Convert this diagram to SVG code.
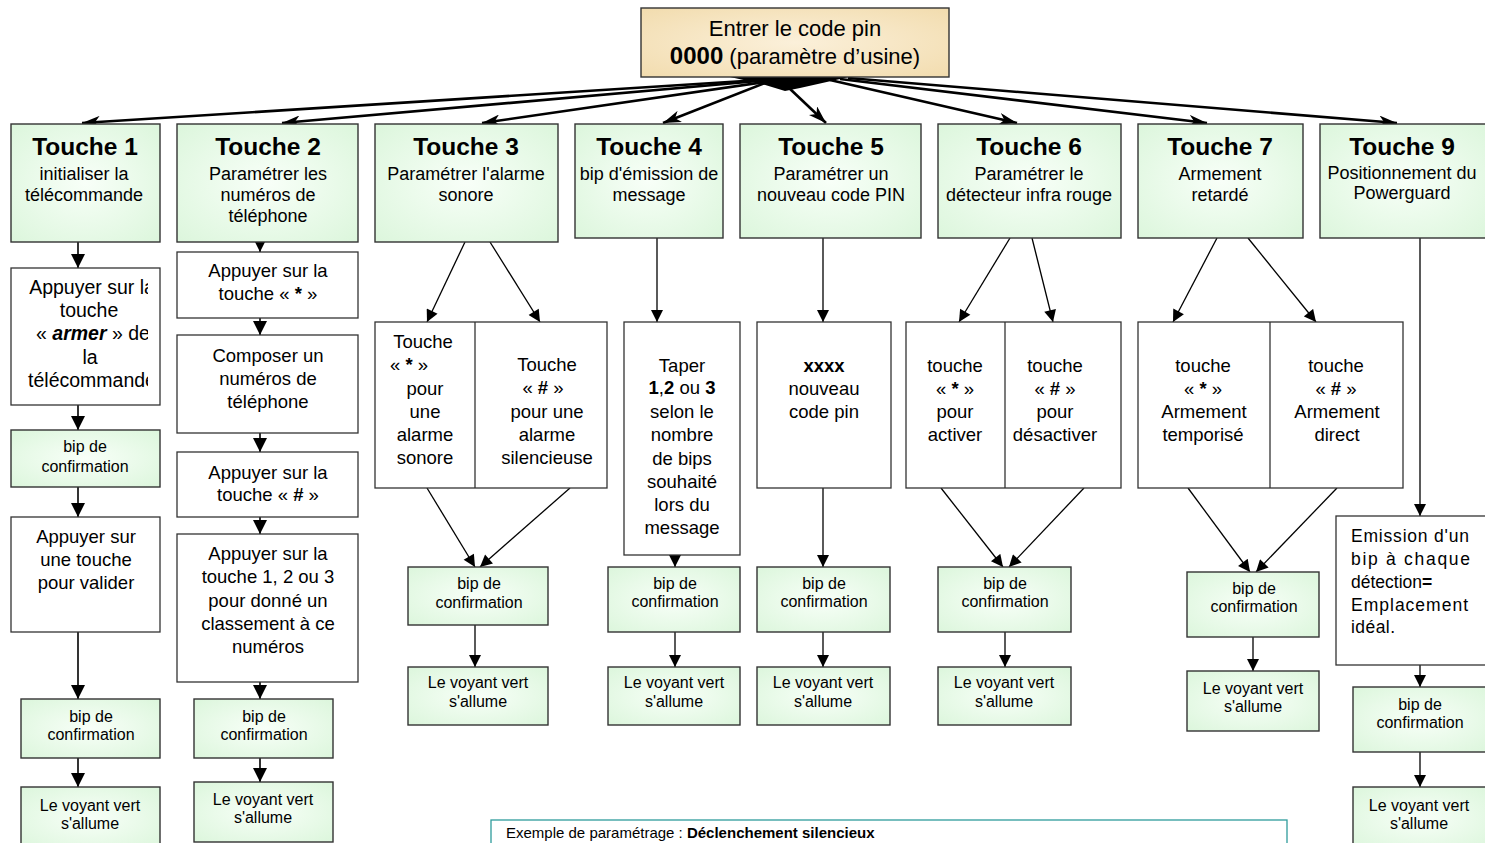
<svg xmlns="http://www.w3.org/2000/svg" width="1485" height="843" viewBox="0 0 1485 843">
<defs>
<style>
.t{font-family:"Liberation Sans",Arial,sans-serif;text-anchor:middle;fill:#000}
.s{text-anchor:start}
.title{font-size:24.5px;font-weight:bold}
.sub{font-size:18px}
.body{font-size:18.5px}
.sm{font-size:16px}
.b{font-weight:bold}
.g{fill:url(#gg);stroke:#333;stroke-width:1.4}
.w{fill:#fff;stroke:#333;stroke-width:1.3}
.c{stroke:#000;stroke-width:1.3;fill:none;marker-end:url(#ah)}
.cv{stroke:#000;stroke-width:1.6;fill:none;marker-end:url(#ah2)}
.fan{stroke:#000;stroke-width:2.6;fill:none;marker-end:url(#fh)}
</style>
<radialGradient id="gg" cx="50%" cy="50%" r="70%">
<stop offset="0" stop-color="#f8fff8"/>
<stop offset="1" stop-color="#dcf6dc"/>
</radialGradient>
<radialGradient id="bg" cx="50%" cy="50%" r="70%">
<stop offset="0" stop-color="#fbf0da"/>
<stop offset="1" stop-color="#f2dcae"/>
</radialGradient>
<marker id="ah" viewBox="0 0 12 12" refX="12" refY="6" markerWidth="13" markerHeight="12" markerUnits="userSpaceOnUse" orient="auto"><path d="M0,0 L12,6 L0,12 z" fill="#000"/></marker>
<marker id="ah2" viewBox="0 0 14 14" refX="14" refY="7" markerWidth="14" markerHeight="14" markerUnits="userSpaceOnUse" orient="auto"><path d="M0,0 L14,7 L0,14 z" fill="#000"/></marker>
<marker id="fh" viewBox="0 0 18 12" refX="18" refY="6" markerWidth="18" markerHeight="12" markerUnits="userSpaceOnUse" orient="auto"><path d="M0,0 L18,6 L0,12 L5,6 z" fill="#000"/></marker>
<clipPath id="clip1"><rect x="12" y="269" width="136" height="135"/></clipPath>
<clipPath id="clip3r"><rect x="476" y="323" width="120" height="164"/></clipPath>
</defs>

<g id="connectors">
<path d="M730,77 L849,77 L800,88 L785,91 L762,84 Z" fill="#000"/>
<line class="fan" x1="760" y1="80" x2="82" y2="123"/>
<line class="fan" x1="770" y1="80" x2="282" y2="123"/>
<line class="fan" x1="765" y1="82" x2="482" y2="123"/>
<line class="fan" x1="765" y1="83" x2="663" y2="123"/>
<line class="fan" x1="788" y1="87" x2="826" y2="123"/>
<line class="fan" x1="830" y1="80" x2="1017" y2="123"/>
<line class="fan" x1="840" y1="79" x2="1207" y2="123"/>
<line class="fan" x1="848" y1="78" x2="1397" y2="123"/>
<line class="cv" x1="78" y1="242" x2="78" y2="268"/>
<line class="cv" x1="78" y1="405" x2="78" y2="430"/>
<line class="cv" x1="78" y1="487" x2="78" y2="517"/>
<line class="cv" x1="78" y1="632" x2="78" y2="699"/>
<line class="cv" x1="78" y1="758" x2="78" y2="787"/>
<line class="cv" x1="260" y1="242" x2="260" y2="252"/>
<line class="cv" x1="260" y1="318" x2="260" y2="335"/>
<line class="cv" x1="260" y1="433" x2="260" y2="452"/>
<line class="cv" x1="260" y1="517" x2="260" y2="534"/>
<line class="cv" x1="260" y1="682" x2="260" y2="699"/>
<line class="cv" x1="260" y1="758" x2="260" y2="782"/>
<line class="c" x1="465" y1="242" x2="427" y2="322"/>
<line class="c" x1="490" y1="242" x2="540" y2="322"/>
<line class="c" x1="427" y1="488" x2="475" y2="567"/>
<line class="c" x1="570" y1="488" x2="480" y2="567"/>
<line class="c" x1="475" y1="625" x2="475" y2="667"/>
<line class="c" x1="657" y1="238" x2="657" y2="322"/>
<line class="c" x1="675" y1="555" x2="675" y2="567"/>
<line class="c" x1="675" y1="632" x2="675" y2="667"/>
<line class="c" x1="823" y1="238" x2="823" y2="322"/>
<line class="c" x1="823" y1="488" x2="823" y2="567"/>
<line class="c" x1="823" y1="632" x2="823" y2="667"/>
<line class="c" x1="1010" y1="238" x2="959" y2="322"/>
<line class="c" x1="1032" y1="238" x2="1053" y2="322"/>
<line class="c" x1="941" y1="488" x2="1003" y2="567"/>
<line class="c" x1="1084" y1="488" x2="1009" y2="567"/>
<line class="c" x1="1005" y1="632" x2="1005" y2="667"/>
<line class="c" x1="1217" y1="238" x2="1173" y2="322"/>
<line class="c" x1="1248" y1="238" x2="1316" y2="322"/>
<line class="c" x1="1188" y1="488" x2="1250" y2="572"/>
<line class="c" x1="1337" y1="488" x2="1256" y2="572"/>
<line class="c" x1="1253" y1="637" x2="1253" y2="671"/>
<line class="c" x1="1420" y1="238" x2="1420" y2="516"/>
<line class="c" x1="1420" y1="665" x2="1420" y2="687"/>
<line class="c" x1="1420" y1="752" x2="1420" y2="787"/>
</g>

<g id="root">
<rect x="641" y="8" width="308" height="69" fill="url(#bg)" stroke="#333" stroke-width="1.4"/>
<text class="t" x="795" y="36" font-size="22">Entrer le code pin</text>
<text class="t" x="795" y="64" font-size="22"><tspan class="b" font-size="24">0000</tspan> (paramètre d’usine)</text>
</g>

<g id="touche1">
<rect class="g" x="11" y="124" width="149" height="118"/>
<text class="t title" x="85" y="155">Touche 1</text>
<text class="t sub" x="84" y="179.5">initialiser la</text>
<text class="t sub" x="84" y="200.5">télécommande</text>
</g>
<g id="touche2">
<rect class="g" x="177" y="124" width="181" height="118"/>
<text class="t title" x="268" y="155">Touche 2</text>
<text class="t sub" x="268" y="179.5">Paramétrer les</text>
<text class="t sub" x="268" y="200.5">numéros de</text>
<text class="t sub" x="268" y="221.5">téléphone</text>
</g>
<g id="touche3">
<rect class="g" x="375" y="124" width="183" height="118"/>
<text class="t title" x="466" y="155">Touche 3</text>
<text class="t sub" x="466" y="179.5">Paramétrer l'alarme</text>
<text class="t sub" x="466" y="200.5">sonore</text>
</g>
<g id="touche4">
<rect class="g" x="575" y="124" width="148" height="114"/>
<text class="t title" x="649" y="155">Touche 4</text>
<text class="t sub" x="649" y="179.5">bip d'émission de</text>
<text class="t sub" x="649" y="200.5">message</text>
</g>
<g id="touche5">
<rect class="g" x="740" y="124" width="181" height="114"/>
<text class="t title" x="831" y="155">Touche 5</text>
<text class="t sub" x="831" y="179.5">Paramétrer un</text>
<text class="t sub" x="831" y="200.5">nouveau code PIN</text>
</g>
<g id="touche6">
<rect class="g" x="938" y="124" width="183" height="114"/>
<text class="t title" x="1029" y="155">Touche 6</text>
<text class="t sub" x="1029" y="179.5">Paramétrer le</text>
<text class="t sub" x="1029" y="200.5">détecteur infra rouge</text>
</g>
<g id="touche7">
<rect class="g" x="1138" y="124" width="165" height="114"/>
<text class="t title" x="1220" y="155">Touche 7</text>
<text class="t sub" x="1220" y="179.5">Armement</text>
<text class="t sub" x="1220" y="200.5">retardé</text>
</g>
<g id="touche9">
<rect class="g" x="1320" y="124" width="170" height="114"/>
<text class="t title" x="1402" y="155">Touche 9</text>
<text class="t sub" x="1402" y="178.5">Positionnement du</text>
<text class="t sub" x="1402" y="198.5">Powerguard</text>
</g>

<g id="c1-armer">
<rect class="w" x="11" y="268" width="149" height="137"/>
<g clip-path="url(#clip1)">
<text class="t" font-size="19.5" x="92" y="293.5">Appuyer sur la</text>
<text class="t" font-size="19.5" x="89" y="316.5">touche</text>
<text class="t" font-size="19.5" x="93" y="339.5">« <tspan class="b" font-style="italic">armer</tspan> » de</text>
<text class="t" font-size="19.5" x="90" y="363.5">la</text>
<text class="t" font-size="19.5" x="92" y="386.5">télécommande</text>
</g>
</g>
<g id="c1-bip1">
<rect class="g" x="11" y="430" width="149" height="57"/>
<text class="t sm" x="85" y="451.5">bip de</text>
<text class="t sm" x="85" y="471.5">confirmation</text>
</g>
<g id="c1-valider">
<rect class="w" x="11" y="517" width="149" height="115"/>
<text class="t body" x="86" y="542.5">Appuyer sur</text>
<text class="t body" x="86" y="565.5">une touche</text>
<text class="t body" x="86" y="588.5">pour valider</text>
</g>
<g id="c1-bip2">
<rect class="g" x="21" y="699" width="139" height="59"/>
<text class="t sm" x="91" y="721.5">bip de</text>
<text class="t sm" x="91" y="739.5">confirmation</text>
</g>
<g id="c1-voyant">
<rect class="g" x="21" y="787" width="139" height="62"/>
<text class="t sm" x="90" y="810.5">Le voyant vert</text>
<text class="t sm" x="90" y="828.5">s'allume</text>
</g>

<g id="c2-etoile">
<rect class="w" x="177" y="252" width="181" height="66"/>
<text class="t body" x="268" y="276.5">Appuyer sur la</text>
<text class="t body" x="268" y="299.5">touche « <tspan class="b">*</tspan> »</text>
</g>
<g id="c2-composer">
<rect class="w" x="177" y="335" width="181" height="98"/>
<text class="t body" x="268" y="361.5">Composer un</text>
<text class="t body" x="268" y="384.5">numéros de</text>
<text class="t body" x="268" y="407.5">téléphone</text>
</g>
<g id="c2-diese">
<rect class="w" x="177" y="452" width="181" height="65"/>
<text class="t body" x="268" y="478.5">Appuyer sur la</text>
<text class="t body" x="268" y="500.5">touche « <tspan class="b">#</tspan> »</text>
</g>
<g id="c2-classement">
<rect class="w" x="177" y="534" width="181" height="148"/>
<text class="t body" x="268" y="559.5">Appuyer sur la</text>
<text class="t body" x="268" y="582.5">touche 1, 2 ou 3</text>
<text class="t body" x="268" y="606.5">pour donné un</text>
<text class="t body" x="268" y="629.5">classement à ce</text>
<text class="t body" x="268" y="652.5">numéros</text>
</g>
<g id="c2-bip">
<rect class="g" x="194" y="699" width="139" height="59"/>
<text class="t sm" x="264" y="721.5">bip de</text>
<text class="t sm" x="264" y="739.5">confirmation</text>
</g>
<g id="c2-voyant">
<rect class="g" x="194" y="782" width="139" height="60"/>
<text class="t sm" x="263" y="804.5">Le voyant vert</text>
<text class="t sm" x="263" y="822.5">s'allume</text>
</g>

<g id="c3-choix">
<rect class="w" x="375" y="322" width="232" height="166"/>
<line x1="475" y1="322" x2="475" y2="488" stroke="#333" stroke-width="1.3"/>
<text class="t body" x="423" y="347.5">Touche</text>
<text class="t body s" x="390" y="370.5">« <tspan class="b">*</tspan> »</text>
<text class="t body" x="425" y="394.5">pour</text>
<text class="t body" x="425" y="417.5">une</text>
<text class="t body" x="425" y="440.5">alarme</text>
<text class="t body" x="425" y="463.5">sonore</text>
<g clip-path="url(#clip3r)">
<text class="t body" x="547" y="370.5">Touche</text>
<text class="t body" x="543" y="393.5">« <tspan class="b">#</tspan> »</text>
<text class="t body" x="547" y="417.5">pour une</text>
<text class="t body" x="547" y="440.5">alarme</text>
<text class="t body" x="547" y="463.5">silencieuse</text>
</g>
</g>
<g id="c3-bip">
<rect class="g" x="408" y="567" width="140" height="58"/>
<text class="t sm" x="479" y="588.5">bip de</text>
<text class="t sm" x="479" y="607.5">confirmation</text>
</g>
<g id="c3-voyant">
<rect class="g" x="408" y="667" width="140" height="58"/>
<text class="t sm" x="478" y="687.5">Le voyant vert</text>
<text class="t sm" x="478" y="706.5">s'allume</text>
</g>

<g id="c4-taper">
<rect class="w" x="624" y="322" width="116" height="233"/>
<text class="t body" x="682" y="371.5">Taper</text>
<text class="t body" x="682" y="393.5"><tspan class="b">1</tspan>,<tspan class="b">2</tspan> ou <tspan class="b">3</tspan></text>
<text class="t body" x="682" y="417.5">selon le</text>
<text class="t body" x="682" y="440.5">nombre</text>
<text class="t body" x="682" y="464.5">de bips</text>
<text class="t body" x="682" y="487.5">souhaité</text>
<text class="t body" x="682" y="510.5">lors du</text>
<text class="t body" x="682" y="533.5">message</text>
</g>
<g id="c4-bip">
<rect class="g" x="608" y="567" width="132" height="65"/>
<text class="t sm" x="675" y="588.5">bip de</text>
<text class="t sm" x="675" y="606.5">confirmation</text>
</g>
<g id="c4-voyant">
<rect class="g" x="608" y="667" width="132" height="58"/>
<text class="t sm" x="674" y="687.5">Le voyant vert</text>
<text class="t sm" x="674" y="706.5">s'allume</text>
</g>

<g id="c5-code">
<rect class="w" x="757" y="322" width="134" height="166"/>
<text class="t body b" x="824" y="371.5">xxxx</text>
<text class="t body" x="824" y="394.5">nouveau</text>
<text class="t body" x="824" y="417.5">code pin</text>
</g>
<g id="c5-bip">
<rect class="g" x="757" y="567" width="133" height="65"/>
<text class="t sm" x="824" y="588.5">bip de</text>
<text class="t sm" x="824" y="606.5">confirmation</text>
</g>
<g id="c5-voyant">
<rect class="g" x="757" y="667" width="133" height="58"/>
<text class="t sm" x="823" y="687.5">Le voyant vert</text>
<text class="t sm" x="823" y="706.5">s'allume</text>
</g>

<g id="c6-choix">
<rect class="w" x="906" y="322" width="215" height="166"/>
<line x1="1005" y1="322" x2="1005" y2="488" stroke="#333" stroke-width="1.3"/>
<text class="t body" x="955" y="371.5">touche</text>
<text class="t body" x="955" y="394.5">« <tspan class="b">*</tspan> »</text>
<text class="t body" x="955" y="417.5">pour</text>
<text class="t body" x="955" y="440.5">activer</text>
<text class="t body" x="1055" y="371.5">touche</text>
<text class="t body" x="1055" y="394.5">« <tspan class="b">#</tspan> »</text>
<text class="t body" x="1055" y="417.5">pour</text>
<text class="t body" x="1055" y="440.5">désactiver</text>
</g>
<g id="c6-bip">
<rect class="g" x="938" y="567" width="133" height="65"/>
<text class="t sm" x="1005" y="588.5">bip de</text>
<text class="t sm" x="1005" y="606.5">confirmation</text>
</g>
<g id="c6-voyant">
<rect class="g" x="938" y="667" width="133" height="58"/>
<text class="t sm" x="1004" y="687.5">Le voyant vert</text>
<text class="t sm" x="1004" y="706.5">s'allume</text>
</g>

<g id="c7-choix">
<rect class="w" x="1138" y="322" width="265" height="166"/>
<line x1="1270" y1="322" x2="1270" y2="488" stroke="#333" stroke-width="1.3"/>
<text class="t body" x="1203" y="371.5">touche</text>
<text class="t body" x="1203" y="394.5">« <tspan class="b">*</tspan> »</text>
<text class="t body" x="1204" y="417.5">Armement</text>
<text class="t body" x="1203" y="440.5">temporisé</text>
<text class="t body" x="1336" y="371.5">touche</text>
<text class="t body" x="1336" y="394.5">« <tspan class="b">#</tspan> »</text>
<text class="t body" x="1337" y="417.5">Armement</text>
<text class="t body" x="1337" y="440.5">direct</text>
</g>
<g id="c7-bip">
<rect class="g" x="1187" y="572" width="132" height="65"/>
<text class="t sm" x="1254" y="593.5">bip de</text>
<text class="t sm" x="1254" y="611.5">confirmation</text>
</g>
<g id="c7-voyant">
<rect class="g" x="1187" y="671" width="132" height="60"/>
<text class="t sm" x="1253" y="693.5">Le voyant vert</text>
<text class="t sm" x="1253" y="711.5">s'allume</text>
</g>

<g id="c9-emission">
<rect class="w" x="1336" y="516" width="155" height="149"/>
<text class="t s" font-size="17.5" x="1351" y="541.5" textLength="118" lengthAdjust="spacing">Emission d'un</text>
<text class="t s" font-size="17.5" x="1351" y="564.5" textLength="119" lengthAdjust="spacing">bip à chaque</text>
<text class="t s" font-size="17.5" x="1351" y="587.5">détection<tspan class="b">=</tspan></text>
<text class="t s" font-size="17.5" x="1351" y="610.5" textLength="117" lengthAdjust="spacing">Emplacement</text>
<text class="t s" font-size="17.5" x="1351" y="632.5" textLength="44" lengthAdjust="spacing">idéal.</text>
</g>
<g id="c9-bip">
<rect class="g" x="1353" y="687" width="137" height="65"/>
<text class="t sm" x="1420" y="709.5">bip de</text>
<text class="t sm" x="1420" y="727.5">confirmation</text>
</g>
<g id="c9-voyant">
<rect class="g" x="1353" y="787" width="137" height="62"/>
<text class="t sm" x="1419" y="810.5">Le voyant vert</text>
<text class="t sm" x="1419" y="828.5">s'allume</text>
</g>

<g id="exemple">
<rect x="491" y="820" width="796" height="40" fill="#fff" stroke="#2e9c9c" stroke-width="1.3"/>
<text class="t s" font-size="15" x="506" y="838">Exemple de paramétrage : <tspan class="b">Déclenchement silencieux</tspan></text>
</g>
</svg>
